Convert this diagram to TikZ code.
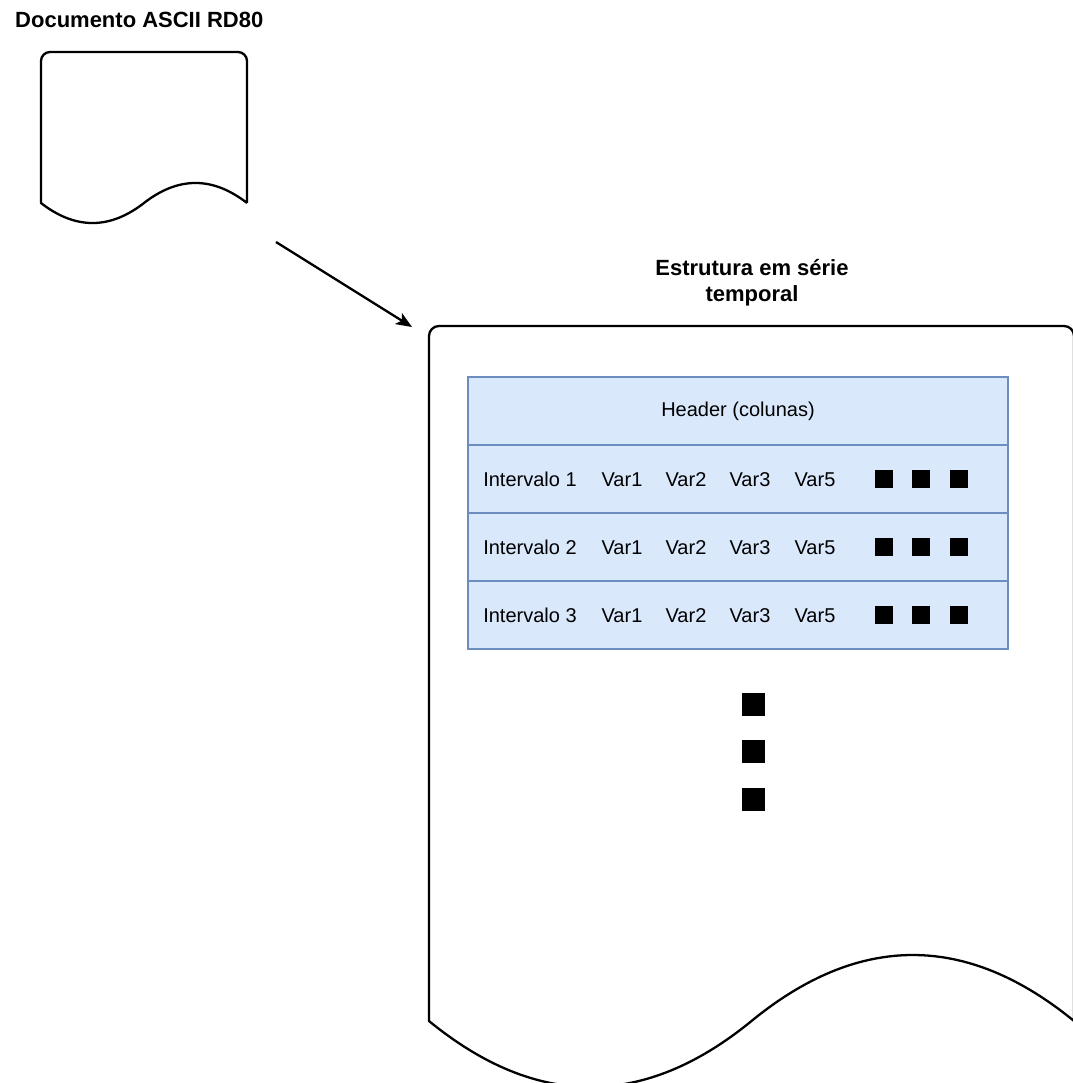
\documentclass[tikz,border=0pt]{standalone}
\usepackage{fontspec}
\setmainfont{Liberation Sans}
\usetikzlibrary{arrows.meta, positioning}
\definecolor{tblue}{HTML}{6C8EBF}
\definecolor{tfill}{HTML}{DAE8FC}

\begin{document}
\begin{tikzpicture}[
  x=1pt, y=-1pt,
  doc/.style={line width=2.3pt, line join=round},
  title/.style={font=\bfseries\fontsize{22}{26}\selectfont, inner sep=0pt},
  row/.style={rectangle, draw=tblue, fill=tfill, line width=2pt, minimum width=540pt,
    minimum height=68pt, inner sep=0pt, outer sep=0pt, font=\fontsize{20}{23}\selectfont},
  cell/.style={inner sep=0pt, anchor=base, font=\fontsize{20}{23}\selectfont},
  dot/.style={fill=black, inner sep=0pt, minimum size=18pt},
  bigdot/.style={fill=black, inner sep=0pt, minimum size=23pt},
  edge/.style={-{Stealth[length=16pt, width=13pt, inset=4pt]}, line width=2.3pt}
]
\useasboundingbox (0,0) rectangle (1072,1083);

\node[title, anchor=west] (src) at (15,20) {Documento ASCII RD80};
\draw[doc] (247,203)
  .. controls (212.7,176.3) and (178.3,176.3) .. (144,203)
  .. controls (109.7,229.7) and (75.3,229.7) .. (41,203)
  [rounded corners=9pt] -- (41,52) -- (247,52) -- (247,203);

\node[title, align=center] (dst) at (752,283) {Estrutura em série\\temporal};
\draw[doc] (1074,1021)
  .. controls (966.5,933) and (859,933) .. (751.5,1021)
  .. controls (644,1109) and (536.5,1109) .. (429,1021)
  [rounded corners=10pt] -- (429,326) -- (1074,326) -- (1074,1021);

\coordinate (a0) at (276,242);
\coordinate (a1) at (412,327);
\draw[edge] (a0) -- (a1);

\node[row] (hdr) at (738,411) {Header (colunas)};
\node[row, below=0pt of hdr] (row1) {};
\node[row, below=0pt of row1] (row2) {};
\node[row, below=0pt of row2] (row3) {};

\foreach \i in {1,2,3} {
  \node[cell] (int\i) at ([xshift=62pt, yshift=-7pt]row\i.west) {Intervalo \i};
  \node[cell] (v1\i) at ([xshift=154pt, yshift=-7pt]row\i.west) {Var1};
  \node[cell] (v2\i) at ([xshift=218pt, yshift=-7pt]row\i.west) {Var2};
  \node[cell] (v3\i) at ([xshift=282pt, yshift=-7pt]row\i.west) {Var3};
  \node[cell] (v5\i) at ([xshift=347pt, yshift=-7pt]row\i.west) {Var5};
  \node[dot] (da\i) at ([xshift=416pt]row\i.west) {};
  \node[dot] (db\i) at ([xshift=453pt]row\i.west) {};
  \node[dot] (dc\i) at ([xshift=491pt]row\i.west) {};
}

\node[bigdot] (m1) at (753,704) {};
\node[bigdot] (m2) at (753,751) {};
\node[bigdot] (m3) at (753,799) {};
\end{tikzpicture}
\end{document}
